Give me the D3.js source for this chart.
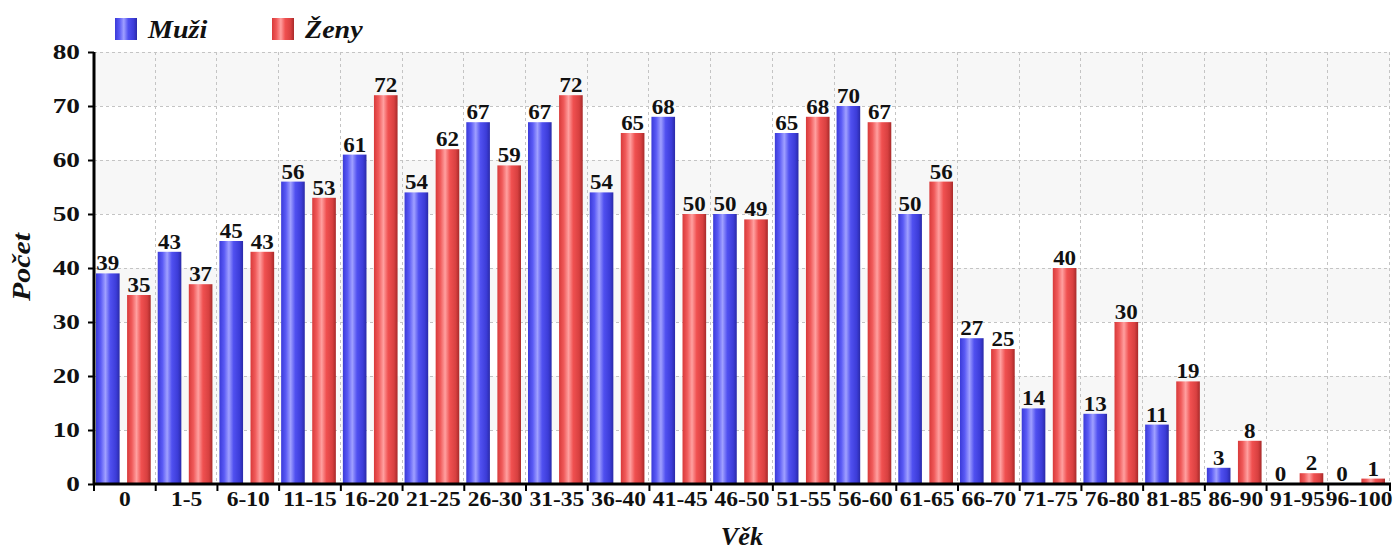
<!DOCTYPE html>
<html>
<head>
<meta charset="utf-8">
<script src="https://cdn.jsdelivr.net/npm/d3@7"></script>
<style>
	body { margin: 0; background: #fff; }
	svg { display: block; }
	text { font-family: "Liberation Serif", "Times New Roman", serif; font-weight: bold; fill: #111; }
</style>
</head>
<body>
<svg id="chart"></svg>
<script>

var categories = ['0', '1-5', '6-10', '11-15', '16-20', '21-25', '26-30', '31-35', '36-40', '41-45',
	'46-50', '51-55', '56-60', '61-65', '66-70', '71-75', '76-80', '81-85', '86-90', '91-95', '96-100'];

var muzi = [39, 43, 45, 56, 61, 54, 67, 67, 54, 68, 50, 65, 70, 50, 27, 14, 13, 11, 3, 0, 0];
var zeny = [35, 37, 43, 53, 72, 62, 59, 72, 65, 50, 49, 68, 67, 56, 25, 40, 30, 19, 8, 2, 1];

var seriesNames = ['Muži', 'Ženy'];
var yTicks = [0, 10, 20, 30, 40, 50, 60, 70, 80];

var width = 1394,
	height = 550,
	margin = { top: 52, right: 4, bottom: 66, left: 94 };

var w = width - margin.left - margin.right,
	h = height - margin.top - margin.bottom;

var svg = d3.select("#chart")
	.attr("width", width)
	.attr("height", height);

// gradients, like the glossy bar painter
var defs = svg.append("defs");
var palettes = {
	blue: ['#3a3ad8', '#5a5af5', '#a0a0ff', '#5050f0', '#3c3cd8', '#2a2aa8'],
	red: ['#d83a3a', '#f05a5a', '#ffa0a0', '#f05050', '#d84040', '#a82a2a']
};
Object.keys(palettes).forEach(function(k) {
	var g = defs.append("linearGradient")
		.attr("id", "grad_" + k)
		.attr("x1", "0%").attr("x2", "100%")
		.attr("y1", "0%").attr("y2", "0%");
	[0, 0.2, 0.4, 0.6, 0.85, 1].forEach(function(o, i) {
		g.append("stop").attr("offset", o).attr("stop-color", palettes[k][i]);
	});
});

var x = d3.scaleBand()
	.domain(categories)
	.range([0, w])
	.padding(0);

var inner = d3.scaleBand()
	.domain(seriesNames)
	.range([2, x.bandwidth() - 5])
	.paddingInner(0.24);

var y = d3.scaleLinear()
	.domain([0, 80])
	.range([h, 0]);

var plot = svg.append("g")
	.attr("transform", "translate(" + margin.left + "," + margin.top + ")");

// alternating bands
plot.selectAll("rect.band")
	.data(yTicks.slice(1).filter(function(d) { return d % 20 == 0; }))
	.enter().append("rect")
	.attr("class", "band")
	.attr("x", 0)
	.attr("width", w)
	.attr("y", function(d) { return y(d); })
	.attr("height", function(d) { return y(d - 10) - y(d); })
	.style("fill", "#f7f7f7");

// grid
plot.selectAll("line.hgrid")
	.data(yTicks.slice(1))
	.enter().append("line")
	.attr("class", "hgrid")
	.attr("x1", 0).attr("x2", w)
	.attr("y1", function(d) { return y(d) + 0.5; })
	.attr("y2", function(d) { return y(d) + 0.5; });

var bounds = categories.map(function(c) { return x(c); }).concat([w]);

plot.selectAll("line.vgrid")
	.data(bounds.slice(1))
	.enter().append("line")
	.attr("class", "vgrid")
	.attr("x1", function(d) { return Math.round(d) - 0.5; })
	.attr("x2", function(d) { return Math.round(d) - 0.5; })
	.attr("y1", 0).attr("y2", h);

plot.selectAll("line.hgrid, line.vgrid")
	.style("stroke", "#c4c4c4")
	.style("stroke-width", "1px")
	.style("stroke-dasharray", "3,3");

// bars
var groups = plot.selectAll("g.cat")
	.data(categories)
	.enter().append("g")
	.attr("class", "cat")
	.attr("transform", function(d) { return "translate(" + x(d) + ",0)"; });

var series = [
	{ name: 'Muži', values: muzi, fill: 'url(#grad_blue)' },
	{ name: 'Ženy', values: zeny, fill: 'url(#grad_red)' }
];

series.forEach(function(s) {
	groups.append("rect")
		.attr("x", inner(s.name))
		.attr("width", inner.bandwidth())
		.attr("y", function(d, i) { return y(s.values[i]); })
		.attr("height", function(d, i) { return h - y(s.values[i]); })
		.style("fill", s.fill);

	// value labels, stretched a bit like the original rendering
	groups.append("text")
		.attr("transform", function(d, i) {
			return "translate(" + (inner(s.name) + inner.bandwidth() / 2) + "," + (y(s.values[i]) - 3) + ") scale(1.15,1)";
		})
		.style("text-anchor", "middle")
		.style("font-size", "20px")
		.text(function(d, i) { return s.values[i]; });
});

// axes
var yAxis = d3.axisLeft(y).tickValues(yTicks).tickSize(6).tickPadding(8);
var ya = plot.append("g").attr("class", "y axis").call(yAxis);
ya.select(".domain").remove();
ya.selectAll("text")
	.attr("x", -14 / 1.3)
	.attr("transform", "scale(1.3,1)")
	.style("font-size", "21px")
	.style("font-family", "'Liberation Serif', serif");

var xAxis = d3.axisBottom(x).tickSize(0).tickPadding(7);
var xa = plot.append("g")
	.attr("class", "x axis")
	.attr("transform", "translate(0," + h + ")")
	.call(xAxis);
xa.select(".domain").remove();
xa.selectAll("text")
	.attr("transform", "scale(1.12,1)")
	.style("font-size", "21px")
	.style("font-family", "'Liberation Serif', serif");

xa.selectAll("line.xtick")
	.data(bounds)
	.enter().append("line")
	.attr("class", "xtick")
	.attr("x1", function(d) { return d; })
	.attr("x2", function(d) { return d; })
	.attr("y1", 0).attr("y2", 7);

plot.selectAll(".axis line").style("stroke", "#000").style("stroke-width", "2px");

plot.append("line")
	.attr("class", "axisline")
	.attr("x1", 0).attr("x2", 0)
	.attr("y1", 0).attr("y2", h + 1);
plot.append("line")
	.attr("class", "axisline")
	.attr("x1", -1).attr("x2", w + 1)
	.attr("y1", h).attr("y2", h);

plot.selectAll("line.axisline")
	.style("stroke", "#000")
	.style("stroke-width", "3px");

// titles
svg.append("text")
	.attr("transform", "translate(30,267) rotate(-90) scale(1.15,1)")
	.style("text-anchor", "middle")
	.style("font-style", "italic")
	.style("font-size", "26px")
	.text("Počet");

svg.append("text")
	.attr("transform", "translate(" + 742 + ",545) scale(1.05,1)")
	.style("text-anchor", "middle")
	.style("font-style", "italic")
	.style("font-size", "25px")
	.text("Věk");

// legend
var legend = svg.selectAll("g.legend")
	.data(series)
	.enter().append("g")
	.attr("class", "legend")
	.attr("transform", function(d, i) { return "translate(" + (115 + i * 157) + ",18)"; });

legend.append("rect")
	.attr("width", 22)
	.attr("height", 22)
	.style("fill", function(d) { return d.fill; });

legend.append("text")
	.attr("transform", "translate(33,20) scale(1.08,1)")
	.style("font-style", "italic")
	.style("font-size", "26px")
	.text(function(d) { return d.name; });

</script>
</body>
</html>
